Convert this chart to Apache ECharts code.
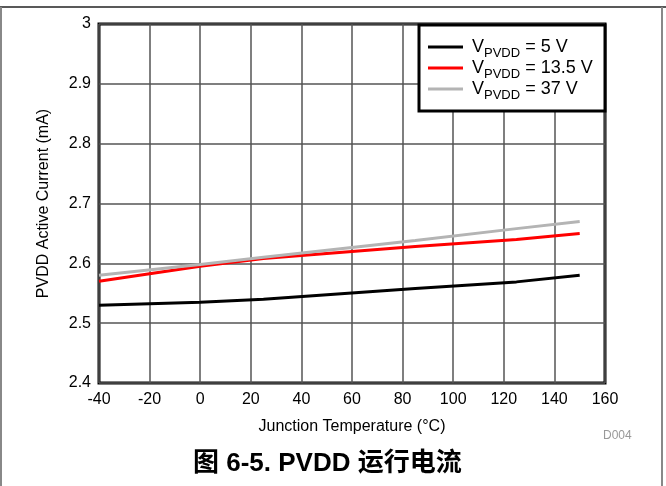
<!DOCTYPE html>
<html><head><meta charset="utf-8">
<script src="https://cdn.jsdelivr.net/npm/echarts@6/dist/echarts.min.js"></script>
<style>html,body{margin:0;padding:0;background:#fff}#c{width:666px;height:486px}</style>
</head><body><div id="c"></div>
<script>
const temps = [-40, 0, 25, 85, 125, 150];
const v5 = [2.53, 2.535, 2.54, 2.558, 2.569, 2.58];
const v13 = [2.57, 2.595, 2.608, 2.628, 2.64, 2.65];
const v37 = [2.58, 2.598, 2.61, 2.638, 2.658, 2.67];
const names = ['5 V', '13.5 V', '37 V'];
const colors = ['#000000', '#ff0000', '#b4b4b4'];
const seriesData = [v5, v13, v37];

const FONT = '"Liberation Sans", Arial, sans-serif';
const chart = echarts.init(document.getElementById('c'));
chart.setOption({
  animation: false,
  textStyle: {fontFamily: FONT},
  grid: {left: 99, top: 24, width: 506, height: 359, show: true, borderColor: '#000', borderWidth: 3, containLabel: false},
  xAxis: {
    type: 'value', min: -40, max: 160, interval: 20,
    name: 'Junction Temperature (°C)', nameLocation: 'middle', nameGap: 36,
    nameTextStyle: {fontSize: 16, color: '#000', fontFamily: FONT},
    axisLine: {show: false}, axisTick: {show: false},
    axisLabel: {fontSize: 16, color: '#000', margin: 9, fontFamily: FONT},
    splitLine: {show: true, lineStyle: {color: '#555', width: 1.5}}
  },
  yAxis: {
    type: 'value', min: 2.4, max: 3, interval: 0.1,
    name: 'PVDD Active Current (mA)', nameLocation: 'middle', nameGap: 47,
    nameTextStyle: {fontSize: 16, color: '#000', fontFamily: FONT},
    axisLine: {show: false}, axisTick: {show: false},
    axisLabel: {fontSize: 16, color: '#000', margin: 8, fontFamily: FONT,
      formatter: v => (Math.round(v * 10) / 10).toString()},
    splitLine: {show: true, lineStyle: {color: '#555', width: 1.5}}
  },
  legend: {
    orient: 'vertical', left: 428, top: 38, itemWidth: 35, itemHeight: 3, itemGap: -1,
    icon: 'rect', z: 10, padding: 0,
    data: names.map(n => n),
    formatter: n => '{f|V}{s|PVDD}{v| = ' + n + '}',
    textStyle: {rich: {
      f: {fontSize: 18, color: '#000', fontFamily: FONT, verticalAlign: 'bottom', lineHeight: 18, padding: [0, 0, 0, 4]},
      v: {fontSize: 18, color: '#000', fontFamily: FONT, verticalAlign: 'bottom', lineHeight: 18},
      s: {fontSize: 13, color: '#000', fontFamily: FONT, verticalAlign: 'bottom', lineHeight: 14, padding: [0, 0, -4, 0]}
    }}
  },
  graphic: [
    {type: 'rect', z: 5, shape: {x: 419, y: 25, width: 186, height: 86}, style: {fill: '#fff', stroke: '#000', lineWidth: 3}},
    {type: 'line', shape: {x1: 0, y1: 7, x2: 666, y2: 7}, style: {stroke: '#222', lineWidth: 1.5}},
    {type: 'line', shape: {x1: 1, y1: 7, x2: 1, y2: 486}, style: {stroke: '#888', lineWidth: 2}},
    {type: 'line', shape: {x1: 662, y1: 7, x2: 662, y2: 486}, style: {stroke: '#888', lineWidth: 2}},
    {type: 'text', left: 603, top: 430, style: {text: 'D004', fontSize: 12, fill: '#999', fontFamily: FONT}},
    {type: 'text', left: 193, top: 451, style: {text: '图 6-5. PVDD 运行电流', fontSize: 26, fontWeight: 'bold', fill: '#000', fontFamily: '"Liberation Sans", "Noto Sans CJK SC", sans-serif'}}
  ],
  series: names.map((n, i) => ({
    name: n, type: 'line', symbol: 'none', smooth: false,
    data: temps.map((t, j) => [t, seriesData[i][j]]),
    lineStyle: {color: colors[i], width: 3}, itemStyle: {color: colors[i]}
  }))
});
</script></body></html>
